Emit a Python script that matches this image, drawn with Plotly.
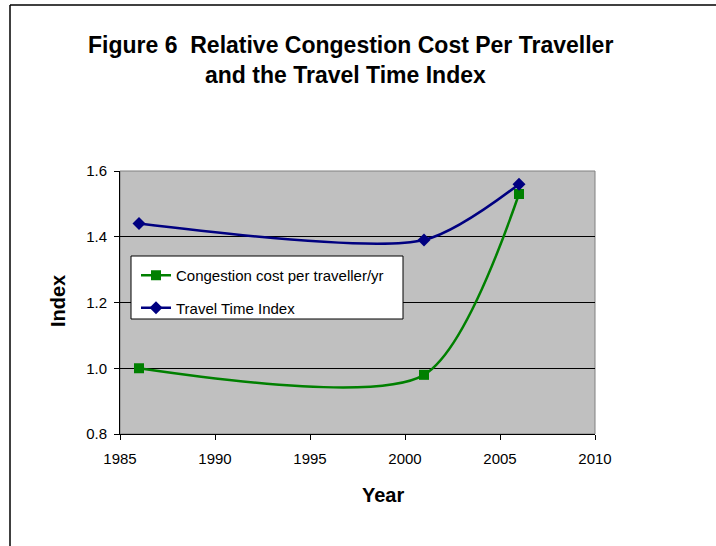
import plotly.graph_objects as go

years = [1986, 2001, 2006]
congestion_cost = [1.00, 0.98, 1.53]
travel_time_index = [1.44, 1.39, 1.56]
series_names = ["Congestion cost per traveller/yr", "Travel Time Index"]
x_ticks = [1985, 1990, 1995, 2000, 2005, 2010]
y_ticks = [0.8, 1.0, 1.2, 1.4, 1.6]

W, H = 716, 546
L, R, T, B = 120, 595, 171, 434

def px(x):
    return (x - L) / (R - L)

def py(y):
    return (B - y) / (B - T)

font = "Liberation Sans, Arial, sans-serif"

fig = go.Figure()
fig.add_trace(go.Scatter(
    x=years, y=congestion_cost, name=series_names[0], mode="lines+markers",
    line=dict(color="#008000", width=2.5, shape="spline", smoothing=0.75),
    marker=dict(symbol="square", size=10, color="#008000"),
    legendgroup="a",
))
fig.add_trace(go.Scatter(
    x=years, y=travel_time_index, name=series_names[1], mode="lines+markers",
    line=dict(color="#000080", width=2.5, shape="spline", smoothing=0.75),
    marker=dict(symbol="diamond", size=10, color="#000080"),
    legendgroup="b",
))

shapes = [
    dict(type="rect", xref="paper", yref="paper", x0=0, x1=1, y0=0, y1=1,
         line=dict(color="#808080", width=1), layer="below"),
    dict(type="line", xref="paper", yref="paper", x0=px(10), x1=px(716), y0=py(5), y1=py(5),
         line=dict(color="#000000", width=1.5)),
    dict(type="line", xref="paper", yref="paper", x0=px(10), x1=px(10), y0=py(5), y1=py(546),
         line=dict(color="#000000", width=1.5)),
    dict(type="rect", xref="paper", yref="paper", x0=px(131), x1=px(403), y0=py(319), y1=py(256),
         line=dict(color="#000000", width=1), fillcolor="white", layer="above"),
]

annotations = [
    dict(text="<b>Figure 6  Relative Congestion Cost Per Traveller</b>", xref="paper", yref="paper",
         x=px(86), y=py(45), xanchor="left", yanchor="middle", showarrow=False,
         font=dict(family=font, size=23, color="black")),
    dict(text="<b>and the Travel Time Index</b>", xref="paper", yref="paper",
         x=px(203), y=py(75), xanchor="left", yanchor="middle", showarrow=False,
         font=dict(family=font, size=23, color="black")),
    dict(text="<b>Year</b>", xref="paper", yref="paper",
         x=px(383), y=py(495), xanchor="center", yanchor="middle", showarrow=False,
         font=dict(family=font, size=20, color="black")),
    dict(text="<b>Index</b>", xref="paper", yref="paper", textangle=-90,
         x=px(58), y=py(301), xanchor="center", yanchor="middle", showarrow=False,
         font=dict(family=font, size=20, color="black")),
]

fig.update_layout(
    width=W, height=H,
    margin=dict(l=L, r=W - R, t=T, b=H - B, pad=0),
    paper_bgcolor="white", plot_bgcolor="#C0C0C0",
    font=dict(family=font, size=15, color="black"),
    showlegend=True,
    legend=dict(x=px(136), y=py(259), xanchor="left", yanchor="top",
                bgcolor="rgba(0,0,0,0)", borderwidth=0,
                font=dict(family=font, size=15, color="black"),
                tracegroupgap=10, traceorder="grouped", itemwidth=30),
    shapes=shapes,
    annotations=annotations,
    xaxis=dict(range=[1985, 2010], tickvals=x_ticks, showgrid=False, zeroline=False,
               showline=True, linecolor="black", linewidth=1, ticks="outside", ticklen=5,
               tickcolor="black", tickfont=dict(size=15), ticklabelstandoff=6),
    yaxis=dict(range=[0.8, 1.6], tickvals=y_ticks, tickformat=".1f", showgrid=True,
               gridcolor="black", gridwidth=1, zeroline=False,
               showline=True, linecolor="black", linewidth=1, ticks="outside", ticklen=5,
               tickcolor="black", tickfont=dict(size=15), ticklabelstandoff=4),
)

fig.write_html("out.html")
